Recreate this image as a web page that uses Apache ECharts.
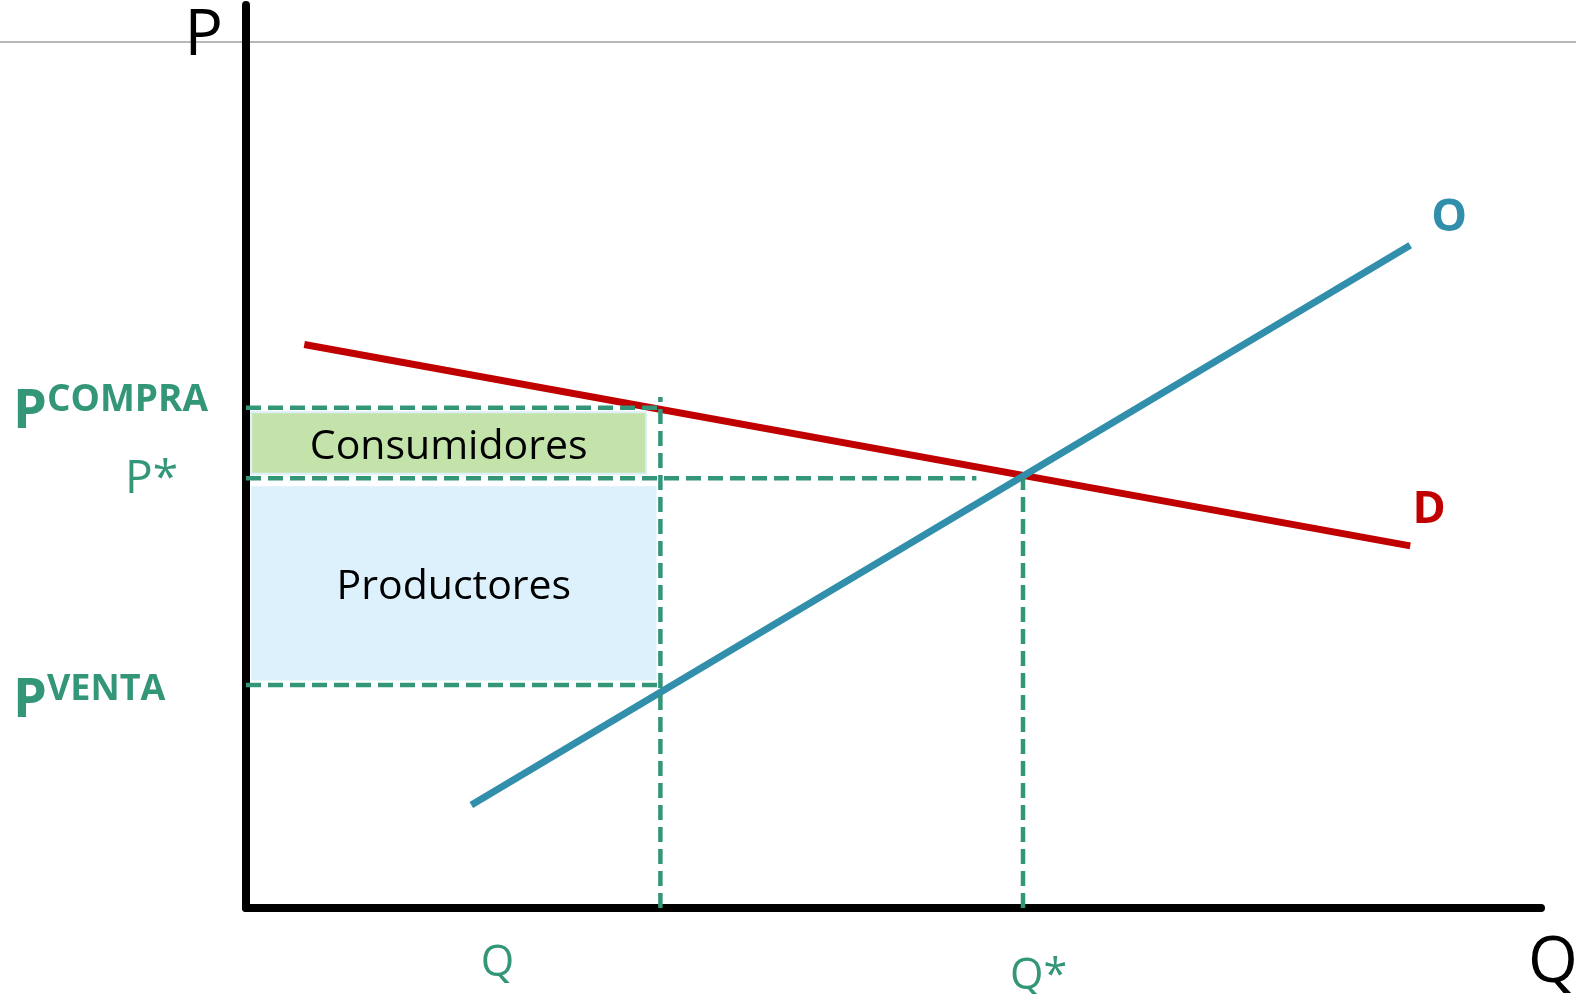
<!DOCTYPE html>
<html>
<head>
<meta charset="utf-8">
<script src="https://cdn.jsdelivr.net/npm/echarts@6/dist/echarts.min.js"></script>
<style>
  html, body { margin: 0; padding: 0; background: #fff; }
  #chart { width: 1576px; height: 994px; }
</style>
</head>
<body>
<div id="chart"></div>
<script>
// rectas de demanda y oferta: extremos [Q, P]
const demanda = [[4.5, 62.4], [89.9, 40.1]]
const oferta = [[17.4, 11.4], [89.9, 73.4]]

// cantidades marcadas en el eje Q
const qValues = [32, 60]
const qLabels = ['Q', 'Q*']

// precios marcados en el eje P (venta, equilibrio, compra)
const pValues = [24.7, 47.6, 55.4]
const pLabels = [['P', 'VENTA'], ['P*', ''], ['P', 'COMPRA']]

// hasta donde llegan las guías discontinuas
const pStarGuideEnd = 56.4
const qGuideTop = 56.6

// áreas de excedente
const areaNames = ['Consumidores', 'Productores']
const areaX = [[0.4, 30.9], [0.4, 31.7]]
const areaY = [[48.1, 54.9], [25.2, 46.7]]

const font = 'Open Sans'
const teal = '#349679'
const red = '#C00000'
const blue = '#318FAB'

const chart = echarts.init(document.getElementById('chart'))

const guides = [
  [[0, pValues[2]], [qValues[0], pValues[2]]],
  [[0, pValues[1]], [pStarGuideEnd, pValues[1]]],
  [[0, pValues[0]], [qValues[0], pValues[0]]],
  [[qValues[0], 0], [qValues[0], qGuideTop]],
  [[qValues[1], 0], [qValues[1], pValues[1]]],
]

const guideSeries = guides.map((g, i) => ({
  type: 'line',
  data: g,
  symbol: 'none',
  z: 4,
  lineStyle: { color: teal, width: 4.5, type: [15, 7] },
  markArea: i === 0 ? {
    silent: true,
    label: { position: 'inside', color: '#000', fontSize: 41, fontFamily: font, offset: [0, 4] },
    data: areaNames.map((name, k) => [
      {
        name,
        xAxis: areaX[k][0],
        yAxis: areaY[k][0],
        itemStyle: k === 0
          ? { color: '#C3E3AB', borderColor: '#DDEFF8', borderWidth: 2 }
          : { color: '#DCF1FB' },
      },
      { xAxis: areaX[k][1], yAxis: areaY[k][1] },
    ]),
  } : undefined,
}))

function curveLabel(name, coord, color, offset) {
  return {
    symbol: 'circle',
    symbolSize: 1,
    itemStyle: { color: 'transparent' },
    label: {
      show: true,
      position: 'inside',
      formatter: name,
      color,
      fontSize: 45,
      fontWeight: 'bold',
      fontFamily: font,
      offset,
    },
    data: [{ name, coord }],
  }
}

const option = {
  animation: false,
  backgroundColor: '#fff',
  textStyle: { fontFamily: font },
  grid: { left: 246, right: 35, top: 5, bottom: 86, containLabel: false, outerBoundsMode: 'none' },
  graphic: [
    {
      type: 'line',
      z: -10,
      shape: { x1: 0, y1: 42, x2: 1576, y2: 42 },
      style: { stroke: '#A0A0A0', lineWidth: 1.5 },
    },
  ],
  xAxis: {
    type: 'value',
    min: 0,
    max: 100,
    name: 'Q',
    nameLocation: 'end',
    nameGap: -13,
    nameMoveOverlap: false,
    nameTextStyle: {
      fontSize: 64, color: '#000', fontFamily: font,
      align: 'left', verticalAlign: 'top', padding: [24, 0, 0, 0],
    },
    axisLine: { show: true, onZero: false, lineStyle: { color: '#000', width: 8 } },
    axisTick: { show: false },
    splitLine: { show: false },
    axisLabel: {
      customValues: qValues,
      margin: 34,
      formatter: (v) => {
        const i = qValues.indexOf(v)
        return i === 0 ? `{q|${qLabels[0]}}` : `{qs|${qLabels[1]}}`
      },
      rich: {
        q: { fontSize: 43, color: teal, fontFamily: font, padding: [0, 326, 0, 0] },
        qs: { fontSize: 43, color: teal, fontFamily: font, padding: [13, 0, 0, 31] },
      },
    },
  },
  yAxis: {
    type: 'value',
    min: 0,
    max: 100,
    name: 'P',
    nameLocation: 'end',
    nameGap: 0,
    nameMoveOverlap: false,
    nameTextStyle: {
      fontSize: 64, color: '#000', fontFamily: font,
      align: 'right', verticalAlign: 'top', padding: [0, 23, 0, 0],
    },
    axisLine: { show: true, onZero: false, lineStyle: { color: '#000', width: 8 } },
    axisTick: { show: false },
    splitLine: { show: false },
    axisLabel: {
      customValues: pValues,
      align: 'left',
      margin: 233,
      formatter: (v) => {
        const i = pValues.indexOf(v)
        const [main, sup] = pLabels[i]
        if (i === 0) return `{pv|${main}}{sv|${sup}}`
        if (i === 1) return `{ps|${main}}`
        return `{pc|${main}}{sc|${sup}}`
      },
      rich: {
        pc: { fontSize: 54, fontWeight: 'bold', color: teal, fontFamily: font, padding: [9, 0, 0, 0] },
        sc: { fontSize: 37, fontWeight: 'bold', color: teal, fontFamily: font, padding: [9, 0, 24, 0] },
        ps: { fontSize: 46, color: teal, fontFamily: font, padding: [3, 0, 0, 112] },
        pv: { fontSize: 54, fontWeight: 'bold', color: teal, fontFamily: font, padding: [34, 0, 0, 0] },
        sv: { fontSize: 36, fontWeight: 'bold', color: teal, fontFamily: font, padding: [34, 0, 24, 0] },
      },
    },
  },
  series: [
    ...guideSeries.slice(0, 1),
    {
      name: 'D',
      type: 'line',
      data: demanda,
      symbol: 'none',
      z: 3,
      lineStyle: { color: red, width: 7 },
      markPoint: curveLabel('D', demanda[1], red, [19, -36]),
    },
    {
      name: 'O',
      type: 'line',
      data: oferta,
      symbol: 'none',
      z: 3,
      lineStyle: { color: blue, width: 7 },
      markPoint: curveLabel('O', oferta[1], blue, [39, -27]),
    },
    ...guideSeries.slice(1),
  ],
}

chart.setOption(option)
</script>
</body>
</html>
